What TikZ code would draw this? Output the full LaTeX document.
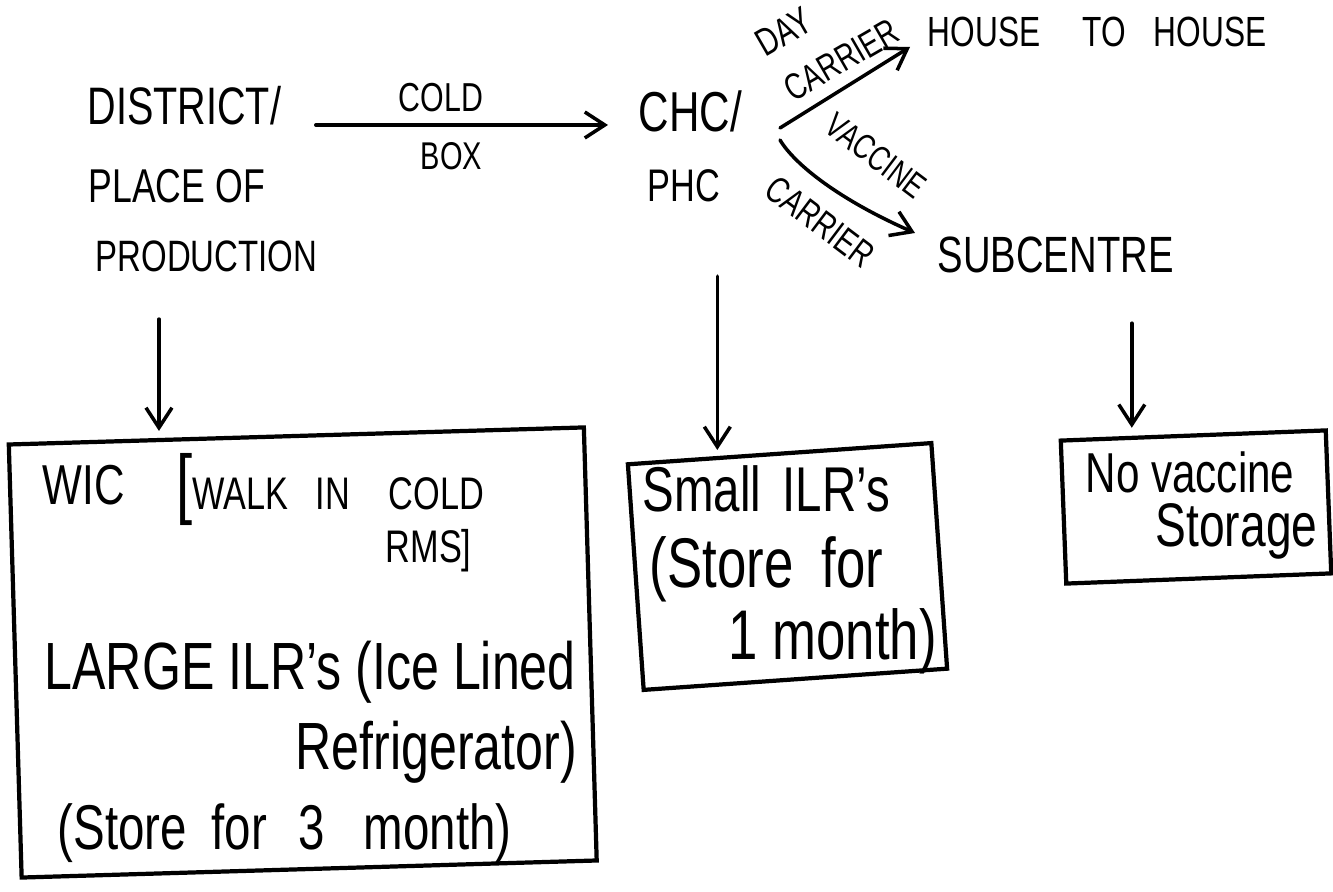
\documentclass[tikz,border=0pt]{standalone}
\usepackage{fontspec}
\setmainfont[FakeStretch=0.75]{Liberation Sans}
\usetikzlibrary{arrows.meta,calc}
\newcommand\fsz[1]{\fontsize{#1}{#1}\selectfont}
\begin{document}
\begin{tikzpicture}[x=0.01cm,y=-0.01cm,
  txt/.style={inner sep=0pt, anchor=base west},
  rtxt/.style={inner sep=0pt, anchor=center},
  arr/.style={line width=1pt, line cap=round, -{Straight Barb[length=2mm,width=2.6mm,line width=1pt]}},
  box/.style={draw, line width=1.2pt, inner sep=0pt}]
\useasboundingbox (0,0) rectangle (1333,892);

% top row
\node[txt] (dist1) at (87,125) {\fsz{15}DISTRICT/};
\node[txt] (dist2) at (88,203) {\fsz{13.5}PLACE OF};
\node[txt] (dist3) at (95,272) {\fsz{12.5}PRODUCTION};
\node[txt] (cold) at (398,112) {\fsz{11.5}COLD};
\node[txt] (boxl) at (420,170) {\fsz{11}BOX};
\node[txt] (chc1) at (638,132) {\fsz{16}CHC/};
\node[txt] (chc2) at (647,202) {\fsz{13}PHC};
\node[txt] (house) at (927,47) {\fsz{12}HOUSE\hspace{12pt}TO\hspace{8pt}HOUSE};
\node[txt] (sub) at (937,273) {\fsz{14.5}SUBCENTRE};

% rotated carrier labels
\node[rtxt, rotate=30] (day) at (784,32) {\fsz{11}DAY};
\node[rtxt, rotate=30] (dayc) at (841,60) {\fsz{10.5}CARRIER};
\node[rtxt, rotate=-37] (vac) at (876,156) {\fsz{10}VACCINE};
\node[rtxt, rotate=-37] (vacc) at (820,222) {\fsz{10.5}CARRIER};

% boxes
\node[box, minimum width=5.75cm, minimum height=4.33cm, rotate=1.7] (wicbox) at (302.75,652.5) {};
\node[box, minimum width=3.04cm, minimum height=2.26cm, rotate=4] (midbox) at (787.5,566.5) {};
\node[box, minimum width=2.65cm, minimum height=1.43cm, rotate=2.2] (rbox) at (1196,507) {};

% left box text
\node[txt] (wic) at (42,505) {\fsz{16}WIC};
\node[txt] (walk) at (176,510) {{\fsz{22}[}\fsz{13}WALK\hspace{7.7pt}IN\hspace{11pt}COLD};
\node[txt] (rms) at (385,563) {\fsz{13}RMS]};
\node[txt] (large) at (44,690) {\fsz{19}LARGE ILR's (Ice Lined};
\node[txt] (refr) at (295,770) {\fsz{19}Refrigerator)};
\node[txt] (st3) at (57,850) {\fsz{18}(Store\hspace{7pt}for\hspace{9pt}3\hspace{11pt}month)};

% middle box text
\node[txt] (small) at (642,512) {\fsz{18}Small\hspace{6pt}ILR's};
\node[txt] (st1) at (649,588) {\fsz{20}(Store\hspace{8pt}for};
\node[txt] (mon1) at (728,660) {\fsz{20}1 month)};

% right box text
\node[txt] (novac) at (1085,493) {\fsz{16}No vaccine};
\node[txt] (stor) at (1155,547) {\fsz{17.5}Storage};

% connectors
\draw[arr] ($(dist1.base east)+(34,0)$) -- ($(chc1.base west)+(-30,-7)$);

\coordinate (fork) at (780,128);
\draw[arr] (fork) -- ($(house.base west)+(-17,0)$);
\draw[arr] ($(fork)+(0,12)$) .. controls ($(fork)+(15,37)$) and ($(fork)+(60,72)$) .. ($(sub.base west)+(-22,-40)$);

\path (wicbox.north west) -- (wicbox.north east) coordinate[pos=0.263] (wictop);
\path (midbox.north west) -- (midbox.north east) coordinate[pos=0.298] (midtop);
\path (rbox.north west) -- (rbox.north east) coordinate[pos=0.272] (rtop);

\draw[arr] ($(wictop |- dist3.south)+(0,46)$) -- ($(wictop)+(0,-7)$);
\draw[arr] ($(midtop |- chc2.south)+(0,73)$) -- ($(midtop)+(0,-6)$);
\draw[arr] ($(rtop |- sub.south)+(0,49)$) -- ($(rtop)+(0,-8)$);
\end{tikzpicture}
\end{document}
